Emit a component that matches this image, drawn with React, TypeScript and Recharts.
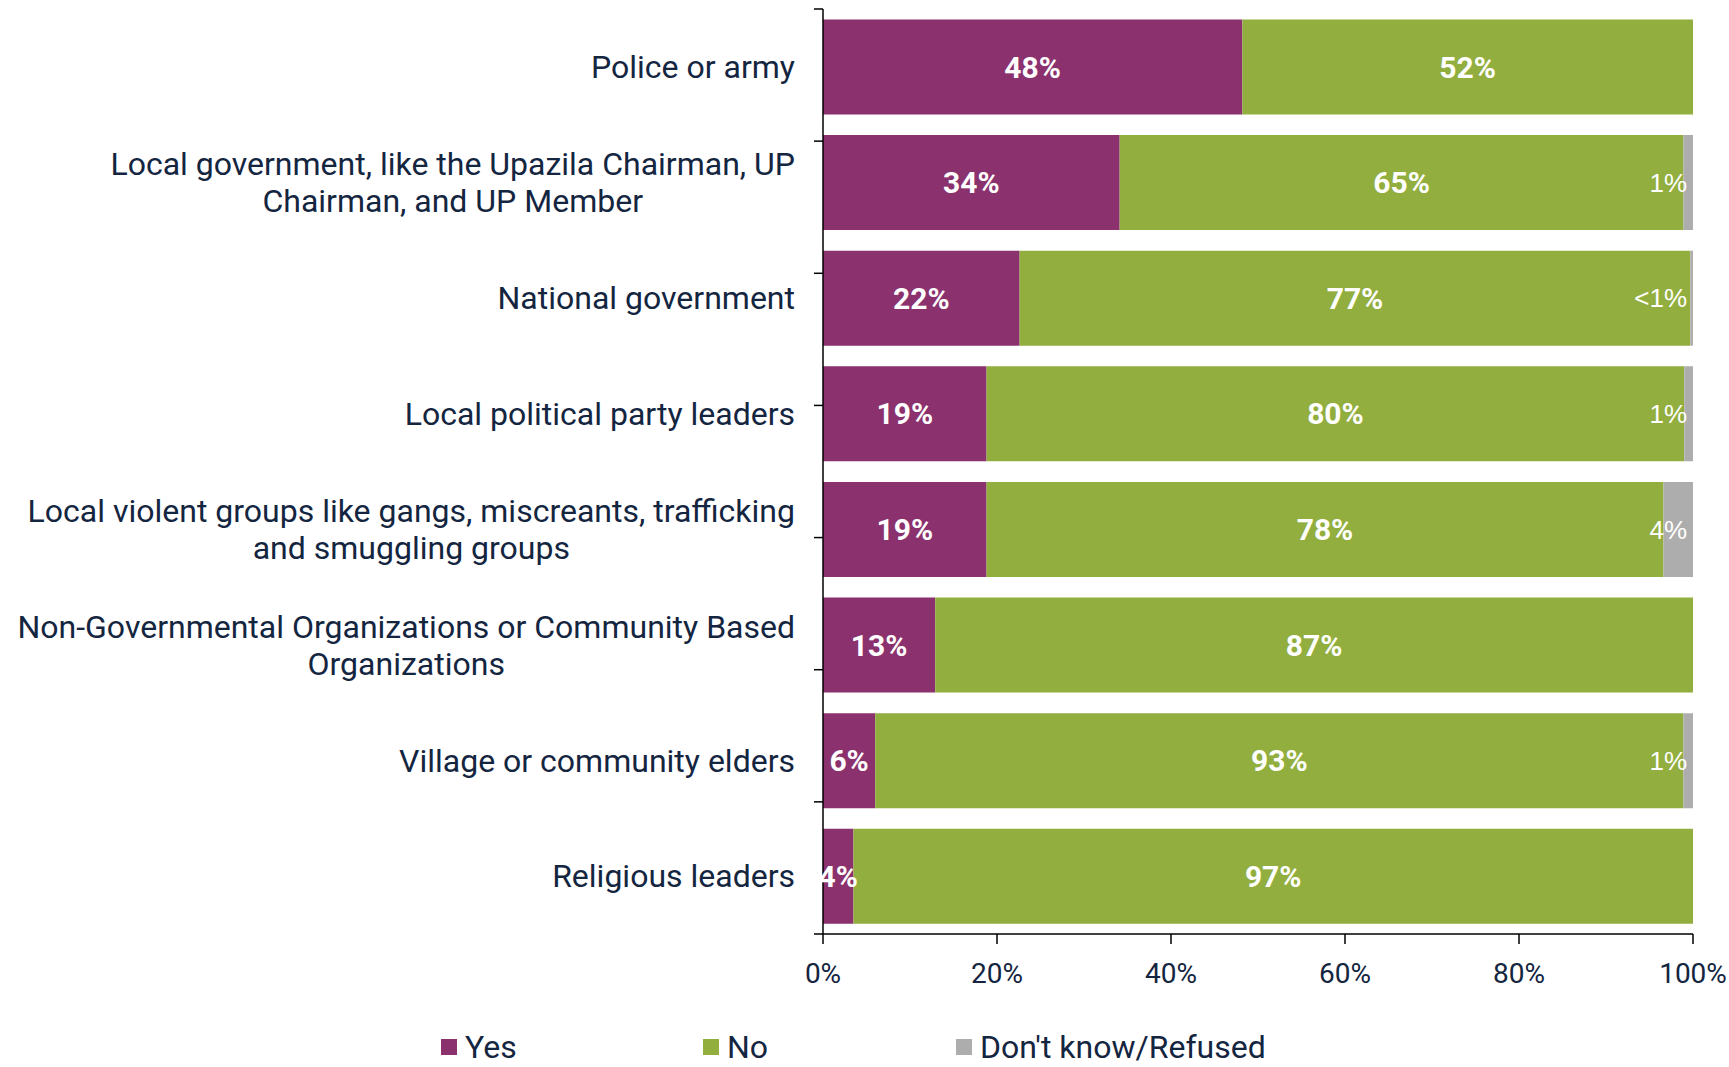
import React from 'react';
import { BarChart, Bar, XAxis, YAxis, LabelList, Legend } from 'recharts';

const categories = [
  'Police or army',
  'Local government, like the Upazila Chairman, UP\nChairman, and UP Member',
  'National government',
  'Local political party leaders',
  'Local violent groups like gangs, miscreants, trafficking\nand smuggling groups',
  'Non-Governmental Organizations or Community Based\nOrganizations',
  'Village or community elders',
  'Religious leaders',
];

const yesValues = [48.2, 34.1, 22.6, 18.8, 18.8, 12.9, 6.0, 3.5];
const noValues = [51.8, 64.8, 77.1, 80.2, 77.8, 87.1, 92.9, 96.5];
const dkValues = [0, 1.1, 0.3, 1.0, 3.4, 0, 1.1, 0];

const yesLabels = ['48%', '34%', '22%', '19%', '19%', '13%', '6%', '4%'];
const noLabels = ['52%', '65%', '77%', '80%', '78%', '87%', '93%', '97%'];
const dkLabels = ['', '1%', '<1%', '1%', '4%', '', '1%', ''];

const xTicks = [0, 20, 40, 60, 80, 100];
const boundaryTicks = [0, 1, 2, 3, 4, 5, 6, 7, 8];

const data = categories.map((name, i) => ({
  name,
  yes: yesValues[i],
  no: noValues[i],
  dk: dkValues[i],
  yesLabel: yesLabels[i],
  noLabel: noLabels[i],
  dkLabel: dkLabels[i],
}));

const FONT = 'Roboto, sans-serif';
const NAVY = '#14253f';
const PURPLE = '#8b316d';
const GREEN = '#92ae3e';
const GRAY = '#adadad';

let measureCtx: CanvasRenderingContext2D | null = null;
const measure = (s: string, size: number) => {
  if (!measureCtx) measureCtx = document.createElement('canvas').getContext('2d');
  if (!measureCtx) return s.length * size * 0.5;
  measureCtx.font = `${size}px Roboto`;
  return measureCtx.measureText(s).width;
};

// multi-line labels: lines centred on each other, block right-aligned
const CategoryTick = (props: any) => {
  const { x, y, payload } = props;
  const size = 32;
  const lh = 37;
  const lines = String(payload.value).split('\n');
  const maxW = Math.max(...lines.map((l) => measure(l, size)));
  const cx = x - maxW / 2;
  const y0 = y - ((lines.length - 1) * lh) / 2;
  return (
    <text textAnchor="middle" fill={NAVY} fontSize={size} fontFamily={FONT}>
      {lines.map((l, i) => (
        <tspan key={i} x={cx} y={y0 + i * lh} dy="0.35em">
          {l}
        </tspan>
      ))}
    </text>
  );
};

// "don't know" labels sit at the inside end of the full bar
const DkLabel = (props: any) => {
  const { x, y, width, height, value } = props;
  if (!value) return null;
  return (
    <text
      x={x + width - 6}
      y={y + height / 2}
      dy="0.35em"
      textAnchor="end"
      fill="#fff"
      fontSize={26}
      fontFamily="'Liberation Sans', Arial, sans-serif"
    >
      {value}
    </text>
  );
};

const legendItems = [
  { label: 'Yes', color: PURPLE, w: 262 },
  { label: 'No', color: GREEN, w: 253 },
  { label: "Don't know/Refused", color: GRAY, w: 400 },
];

const LegendContent = () => (
  <div style={{ height: 40, display: 'flex', alignItems: 'center', paddingLeft: 441 }}>
    {legendItems.map((it) => (
      <div key={it.label} style={{ width: it.w, display: 'flex', alignItems: 'center' }}>
        <span style={{ width: 16, height: 16, background: it.color, marginRight: 8 }} />
        <span style={{ fontFamily: FONT, fontSize: 32, color: NAVY }}>{it.label}</span>
      </div>
    ))}
  </div>
);

export default function App() {
  return (
    <div style={{ position: 'absolute', left: 0, top: 0, background: '#fff' }}>
      <BarChart
        width={1729}
        height={1067}
        data={data}
        layout="vertical"
        margin={{ top: 9, right: 36, left: 0, bottom: 0 }}
        barCategoryGap="9%"
      >
        <XAxis
          type="number"
          domain={[0, 100]}
          ticks={xTicks}
          tickFormatter={(v) => `${v}%`}
          axisLine={{ stroke: '#000', strokeWidth: 1.5 }}
          tickLine={{ stroke: '#000', strokeWidth: 1.5 }}
          tickSize={10}
          tickMargin={19}
          height={93}
          tick={{ fill: NAVY, fontSize: 28, fontFamily: FONT }}
        />
        <YAxis
          yAxisId="cat"
          type="category"
          dataKey="name"
          width={822}
          axisLine={false}
          tickLine={false}
          tickSize={0}
          tickMargin={27}
          interval={0}
          tick={<CategoryTick />}
        />
        {/* boundary tick marks between categories */}
        <YAxis
          yAxisId="aGrid"
          type="number"
          domain={[0, 8]}
          allowDataOverflow
          ticks={boundaryTicks}
          interval={0}
          reversed
          width={1}
          tick={() => <g />}
          tickSize={9}
          axisLine={{ stroke: '#000', strokeWidth: 1.5 }}
          tickLine={{ stroke: '#000', strokeWidth: 1.5 }}
        />
        <Legend verticalAlign="bottom" content={<LegendContent />} />
        <Bar yAxisId="cat" dataKey="yes" stackId="a" fill={PURPLE} isAnimationActive={false}>
          <LabelList dataKey="yesLabel" position="center" fill="#fff" fontSize={30} fontWeight="bold" fontFamily={FONT} />
        </Bar>
        <Bar yAxisId="cat" dataKey="no" stackId="a" fill={GREEN} isAnimationActive={false}>
          <LabelList dataKey="noLabel" position="center" fill="#fff" fontSize={30} fontWeight="bold" fontFamily={FONT} />
        </Bar>
        <Bar yAxisId="cat" dataKey="dk" stackId="a" fill={GRAY} isAnimationActive={false}>
          <LabelList dataKey="dkLabel" content={<DkLabel />} />
        </Bar>
      </BarChart>
    </div>
  );
}
